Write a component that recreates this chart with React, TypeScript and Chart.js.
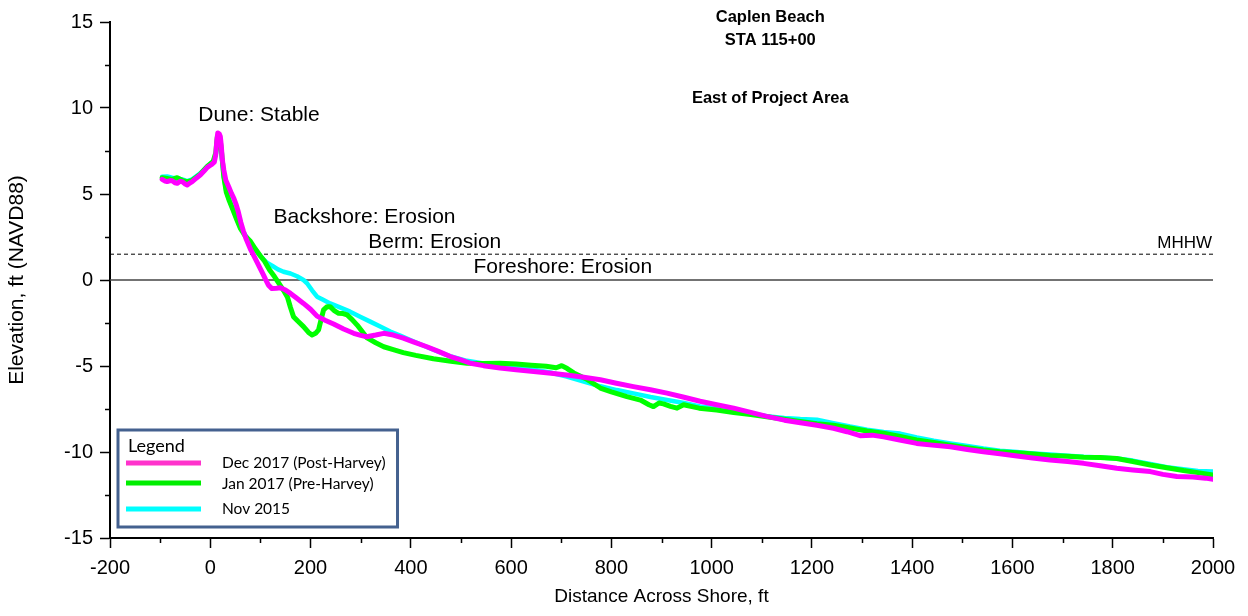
import { useEffect, useRef } from 'react';
import { Chart, registerables } from 'chart.js';

Chart.register(...registerables);

// ---------------- data ----------------
const seriesLabels = ['Dec 2017 (Post-Harvey)', 'Jan 2017 (Pre-Harvey)', 'Nov 2015'];

const dec2017X = [-96, -90, -86, -80, -76, -70, -66, -60, -56, -50, -46, -40, -36, -28, -20, -12, -6, 2, 8, 11, 13, 15, 18, 20, 22, 24, 27, 31, 37, 42, 47, 52, 56, 61, 66, 72, 80, 87, 93, 100, 106, 110, 116, 123, 132, 140, 150, 160, 172, 186, 200, 213, 230, 246, 266, 286, 300, 312, 330, 346, 365, 385, 405, 432, 455, 479, 500, 519, 545, 578, 610, 645, 680, 711, 745, 778, 810, 844, 878, 911, 945, 977, 1010, 1044, 1078, 1110, 1145, 1177, 1210, 1243, 1270, 1296, 1320, 1343, 1375, 1409, 1440, 1476, 1510, 1542, 1575, 1609, 1640, 1675, 1710, 1742, 1775, 1808, 1840, 1875, 1900, 1928, 1960, 1985, 2000];
const dec2017Y = [5.85, 5.75, 5.72, 5.78, 5.77, 5.65, 5.62, 5.74, 5.72, 5.58, 5.52, 5.65, 5.72, 5.92, 6.1, 6.35, 6.55, 6.7, 6.85, 7.3, 8.1, 8.55, 8.5, 8.35, 7.8, 7.0, 6.4, 5.8, 5.4, 5.05, 4.75, 4.35, 3.95, 3.35, 2.85, 2.35, 1.8, 1.4, 1.05, 0.65, 0.3, 0.05, -0.3, -0.5, -0.48, -0.45, -0.58, -0.78, -1.05, -1.36, -1.7, -2.1, -2.35, -2.56, -2.85, -3.1, -3.22, -3.3, -3.2, -3.1, -3.2, -3.38, -3.6, -3.88, -4.15, -4.45, -4.65, -4.84, -4.98, -5.12, -5.22, -5.32, -5.42, -5.52, -5.65, -5.8, -6.0, -6.2, -6.38, -6.58, -6.82, -7.05, -7.25, -7.45, -7.7, -7.93, -8.15, -8.3, -8.45, -8.62, -8.82, -9.05, -9.02, -9.12, -9.3, -9.5, -9.6, -9.7, -9.85, -9.98, -10.1, -10.23, -10.35, -10.47, -10.55, -10.66, -10.8, -10.95, -11.05, -11.14, -11.3, -11.42, -11.45, -11.52, -11.58];

const jan2017X = [-96, -86, -76, -66, -56, -46, -36, -20, -6, 6, 11, 14, 17, 20, 23, 27, 32, 38, 45, 53, 60, 70, 80, 90, 100, 108, 118, 128, 136, 146, 154, 160, 166, 175, 186, 196, 203, 210, 216, 221, 226, 233, 239, 248, 256, 265, 273, 283, 293, 303, 312, 330, 346, 365, 385, 410, 445, 480, 512, 545, 578, 610, 640, 670, 690, 701, 712, 725, 750, 778, 800, 831, 858, 875, 884, 895, 904, 918, 931, 944, 975, 1010, 1044, 1078, 1110, 1145, 1177, 1210, 1243, 1276, 1310, 1343, 1376, 1409, 1443, 1476, 1510, 1542, 1575, 1609, 1642, 1675, 1710, 1742, 1775, 1808, 1840, 1875, 1908, 1941, 1970, 2000];
const jan2017Y = [5.95, 5.9, 5.85, 5.95, 5.8, 5.7, 5.8, 6.15, 6.6, 6.9, 7.4, 8.3, 8.4, 8.1, 7.3, 6.0, 5.1, 4.6, 4.1, 3.5, 3.0, 2.55, 2.25, 1.8, 1.4, 1.1, 0.6, 0.2, -0.15, -0.6, -1.0, -1.6, -2.13, -2.4, -2.71, -3.05, -3.2, -3.1, -2.9, -2.3, -1.74, -1.55, -1.55, -1.8, -1.94, -1.95, -2.03, -2.3, -2.62, -3.0, -3.35, -3.65, -3.88, -4.05, -4.22, -4.38, -4.58, -4.72, -4.84, -4.85, -4.84, -4.88, -4.95, -5.02, -5.1, -4.98, -5.15, -5.4, -5.75, -6.28, -6.5, -6.78, -6.98, -7.25, -7.36, -7.15, -7.2, -7.35, -7.45, -7.25, -7.45, -7.56, -7.7, -7.82, -7.95, -8.1, -8.22, -8.35, -8.45, -8.6, -8.78, -8.91, -9.1, -9.3, -9.45, -9.6, -9.75, -9.88, -9.98, -10.04, -10.12, -10.2, -10.25, -10.3, -10.32, -10.38, -10.55, -10.76, -10.92, -11.08, -11.2, -11.34];

const nov2015X = [-96, -86, -76, -66, -56, -46, -36, -20, -6, 6, 11, 14, 17, 20, 23, 27, 32, 38, 45, 53, 60, 70, 80, 90, 100, 108, 113, 125, 135, 146, 160, 173, 186, 193, 203, 213, 225, 239, 255, 279, 300, 319, 340, 359, 380, 399, 420, 445, 480, 512, 545, 578, 610, 645, 678, 711, 745, 778, 811, 844, 878, 911, 945, 977, 1010, 1044, 1078, 1110, 1145, 1177, 1210, 1243, 1276, 1310, 1343, 1376, 1409, 1443, 1476, 1510, 1542, 1575, 1609, 1642, 1675, 1710, 1742, 1775, 1808, 1840, 1875, 1908, 1941, 1970, 2000];
const nov2015Y = [6.0, 6.02, 5.95, 5.9, 5.85, 5.75, 5.85, 6.2, 6.6, 6.9, 7.3, 8.0, 8.2, 7.9, 7.1, 6.0, 5.15, 4.65, 4.15, 3.55, 3.05, 2.6, 2.2, 1.75, 1.4, 1.15, 1.0, 0.8, 0.62, 0.48, 0.38, 0.22, 0.0, -0.19, -0.6, -0.97, -1.15, -1.36, -1.55, -1.84, -2.15, -2.42, -2.72, -3.0, -3.25, -3.49, -3.75, -4.05, -4.45, -4.7, -4.85, -4.94, -5.05, -5.22, -5.38, -5.62, -5.9, -6.18, -6.4, -6.59, -6.8, -6.98, -7.15, -7.35, -7.47, -7.56, -7.75, -7.92, -8.02, -8.08, -8.12, -8.32, -8.52, -8.7, -8.83, -8.93, -9.15, -9.35, -9.5, -9.65, -9.8, -9.92, -10.0, -10.08, -10.15, -10.22, -10.28, -10.32, -10.38, -10.5, -10.7, -10.88, -11.0, -11.1, -11.14];

const mhhwLevel = 1.5;
const xMinorTicks = [-100, 100, 300, 500, 700, 900, 1100, 1300, 1500, 1700, 1900];
const yMinorTicks = [-12.5, -7.5, -2.5, 2.5, 7.5, 12.5];
const titleLines = ['Caplen Beach', 'STA 115+00', 'East of Project Area'];
const annotationLabels = ['Dune: Stable', 'Backshore: Erosion', 'Berm: Erosion', 'Foreshore: Erosion'];

const seriesColors = ['#ff00ff', '#00ff00', '#00ffff'];
const legendColors = ['#ff33cc', '#00ee00', '#00ffff'];

const ARIAL = '"Liberation Sans", Arial, Helvetica, sans-serif';
const LEGEND_FONT = 'Lato, "Noto Sans", sans-serif';

const toPts = (xs: number[], ys: number[]) => xs.map((x, i) => ({ x, y: ys[i] }));

const overlayPlugin = {
  id: 'overlay',
  afterDraw(chart: any) {
    const { ctx, chartArea } = chart;
    const xs = chart.scales.x;
    const ys = chart.scales.y;
    const X = (v: number) => xs.getPixelForValue(v);
    const Y = (v: number) => ys.getPixelForValue(v);
    ctx.save();

    // minor ticks
    ctx.strokeStyle = '#000';
    ctx.lineWidth = 1.5;
    ctx.beginPath();
    for (const v of xMinorTicks) {
      const px = Math.round(X(v)) + 0.5;
      ctx.moveTo(px, chartArea.bottom);
      ctx.lineTo(px, chartArea.bottom + 5);
    }
    for (const v of yMinorTicks) {
      const py = Math.round(Y(v)) + 0.5;
      ctx.moveTo(chartArea.left - 5, py);
      ctx.lineTo(chartArea.left, py);
    }
    ctx.stroke();

    // titles
    ctx.fillStyle = '#000';
    ctx.textAlign = 'center';
    ctx.textBaseline = 'alphabetic';
    ctx.font = `bold 16.5px ${ARIAL}`;
    const titleCx = X(1117);
    ctx.fillText(titleLines[0], titleCx, chartArea.top + 0);
    ctx.fillText(titleLines[1], titleCx, chartArea.top + 23);
    ctx.fillText(titleLines[2], titleCx, chartArea.top + 81);

    // annotations
    ctx.textAlign = 'left';
    ctx.font = `21px ${ARIAL}`;
    ctx.fillText(annotationLabels[0], X(-24), Y(9.24));
    ctx.fillText(annotationLabels[1], X(126), Y(3.31));
    ctx.fillText(annotationLabels[2], X(315), Y(1.86));
    ctx.fillText(annotationLabels[3], X(525), Y(0.41));
    ctx.textAlign = 'right';
    ctx.font = `17px ${ARIAL}`;
    ctx.fillText('MHHW', X(1998), Y(1.86));

    // legend box
    ctx.font = `15.5px ${LEGEND_FONT}`;
    let maxW = 0;
    for (const s of seriesLabels) maxW = Math.max(maxW, ctx.measureText(s).width);
    const lx = chartArea.left + 8;
    const ly = chartArea.bottom - 108;
    const lw = 104 + maxW + 12;
    const lh = 97;
    ctx.fillStyle = '#fff';
    ctx.fillRect(lx, ly, lw, lh);
    ctx.strokeStyle = '#44618f';
    ctx.lineWidth = 3;
    ctx.strokeRect(lx, ly, lw, lh);
    ctx.fillStyle = '#000';
    ctx.textAlign = 'left';
    ctx.font = `18px ${LEGEND_FONT}`;
    ctx.fillText('Legend', lx + 10, ly + 22);
    ctx.font = `15.5px ${LEGEND_FONT}`;
    const lineYs = [33, 53, 79];
    const textYs = [38, 59, 84];
    for (let i = 0; i < seriesLabels.length; i++) {
      ctx.strokeStyle = legendColors[i];
      ctx.lineWidth = 5;
      ctx.beginPath();
      ctx.moveTo(lx + 8, ly + lineYs[i]);
      ctx.lineTo(lx + 83, ly + lineYs[i]);
      ctx.stroke();
      ctx.fillText(seriesLabels[i], lx + 104, ly + textYs[i]);
    }
    ctx.restore();
  },
};

export default function App() {
  const canvasRef = useRef<HTMLCanvasElement | null>(null);

  useEffect(() => {
    if (!canvasRef.current) return;
    const lineDs = (label: string, xs: number[], ys: number[], color: string, width: number, order: number) => ({
      label,
      data: toPts(xs, ys),
      borderColor: color,
      backgroundColor: color,
      borderWidth: width,
      pointRadius: 0,
      tension: 0,
      fill: false,
      borderJoinStyle: 'round' as const,
      borderCapStyle: 'round' as const,
      order,
    });
    const chart = new Chart(canvasRef.current, {
      type: 'line',
      data: {
        datasets: [
          lineDs(seriesLabels[0], dec2017X, dec2017Y, seriesColors[0], 5, 1),
          lineDs(seriesLabels[1], jan2017X, jan2017Y, seriesColors[1], 5, 2),
          lineDs(seriesLabels[2], nov2015X, nov2015Y, seriesColors[2], 4.5, 3),
          {
            label: 'MHHW',
            data: [{ x: -200, y: mhhwLevel }, { x: 2000, y: mhhwLevel }],
            borderColor: '#000',
            borderWidth: 1,
            borderDash: [4, 3],
            pointRadius: 0,
            order: 4,
          },
          {
            label: 'zero',
            data: [{ x: -200, y: 0 }, { x: 2000, y: 0 }],
            borderColor: '#444',
            borderWidth: 1.3,
            pointRadius: 0,
            order: 5,
          },
        ],
      },
      options: {
        animation: false,
        responsive: true,
        maintainAspectRatio: false,
        layout: { padding: { top: 22, right: 35, left: 0, bottom: 0 } },
        plugins: { legend: { display: false }, tooltip: { enabled: false }, title: { display: false } },
        scales: {
          x: {
            type: 'linear',
            min: -200,
            max: 2000,
            afterFit: (s: any) => { s.height = 78; },
            ticks: {
              stepSize: 200,
              color: '#000',
              font: { family: ARIAL, size: 20 },
              padding: 8,
              maxRotation: 0,
              callback: (v: any) => String(v),
            },
            grid: { drawOnChartArea: false, drawTicks: true, tickLength: 10, tickColor: '#000', tickWidth: 1.5 },
            border: { display: true, color: '#000', width: 2 },
            title: { display: true, text: 'Distance Across Shore, ft', color: '#000', font: { family: ARIAL, size: 19 }, padding: { top: 0, bottom: 8 } },
          },
          y: {
            type: 'linear',
            min: -15,
            max: 15,
            afterFit: (s: any) => { s.width = 110; },
            ticks: {
              stepSize: 5,
              color: '#000',
              font: { family: ARIAL, size: 20 },
              padding: 7,
              callback: (v: any) => String(v),
            },
            grid: { drawOnChartArea: false, drawTicks: true, tickLength: 10, tickColor: '#000', tickWidth: 1.5 },
            border: { display: true, color: '#000', width: 2 },
            title: { display: true, text: 'Elevation, ft (NAVD88)', color: '#000', font: { family: ARIAL, size: 21 }, padding: { top: 5, bottom: 0 } },
          },
        },
      },
      plugins: [overlayPlugin],
    } as any);
    return () => chart.destroy();
  }, []);

  return (
    <div style={{ position: 'absolute', left: 0, top: 0, width: 1248, height: 616, background: '#fff' }}>
      <canvas ref={canvasRef} />
    </div>
  );
}
